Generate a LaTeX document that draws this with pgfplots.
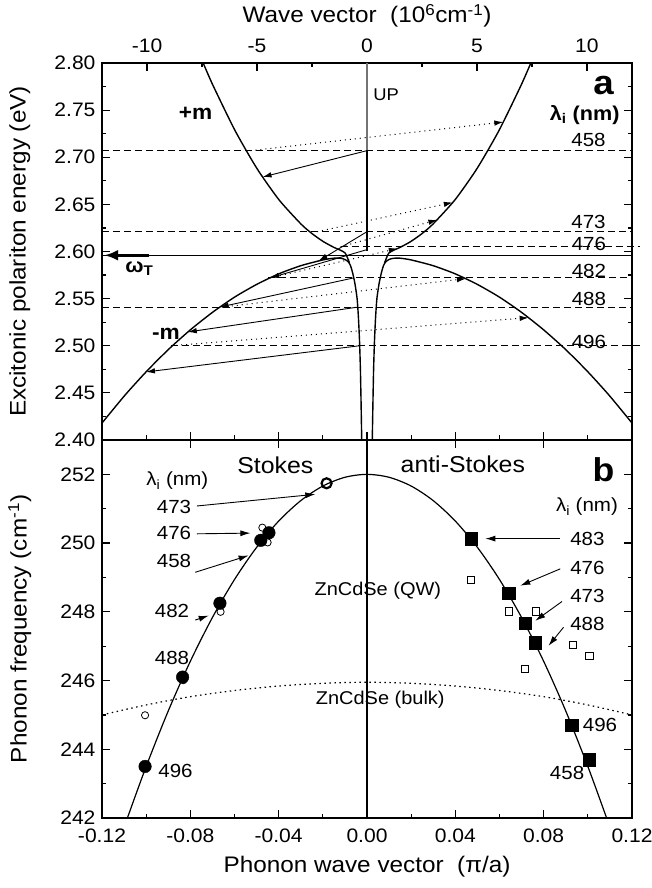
\documentclass[border=0pt]{standalone}
\usepackage{fontspec}
\setmainfont{Liberation Sans}[FakeStretch=1.08]
\usepackage{pgfplots}
\pgfplotsset{compat=1.18}
\usetikzlibrary{arrows.meta}

\newcommand{\fs}[1]{\fontsize{#1}{#1}\selectfont}

\begin{document}
\begin{tikzpicture}
\pgfplotsset{
  every axis/.append style={
    scale only axis, width=530pt, clip=false,
    axis line style={line width=1.5pt},
    every tick/.append style={line width=1.2pt, black},
    major tick length=8pt, minor tick length=4.5pt,
    tick align=inside,
    /pgf/number format/assume math mode=true,
  },
  st/.style={line width=0.9pt, -{Latex[length=9pt,width=5.5pt]}},
  as/.style={line width=1pt, dash pattern=on 1pt off 4pt, -{Latex[length=9pt,width=5.5pt]}},
  dl/.style={line width=0.9pt, dash pattern=on 7pt off 4pt},
  sb/.style={line width=0.9pt, -{Latex[length=10pt,width=6pt]}},
}

% ---------------- panel b ----------------
\begin{axis}[
  at={(0,0)}, anchor=south west, height=378pt,
  xmin=-0.12, xmax=0.12, ymin=242, ymax=253,
  xtick={-0.12,-0.08,-0.04,0,0.04,0.08,0.12},
  minor xtick={-0.10,-0.06,-0.02,0.02,0.06,0.10},
  xtick pos=left,
  xticklabel style={font=\fs{19.5}, /pgf/number format/.cd, fixed, fixed zerofill, precision=2},
  yticklabel style={font=\fs{19.5}},
  xticklabel shift=7pt,
  ytick={242,244,246,248,250,252},
  minor ytick={243,245,247,249,251,253},
  ytick pos=both,
  yticklabel shift=3pt,
  xlabel={Phonon wave vector\ \ (π/a)},
  ylabel={Phonon frequency (cm\textsuperscript{-1})},
  xlabel style={font=\fs{22.5}, at={(axis description cs:0.5,-0.13)}, anchor=center},
  ylabel style={font=\fs{22.5}, at={(axis description cs:-0.155,0.5)}, anchor=center},
]
\addplot[line width=1.2pt] coordinates {(0,242) (0,253)};
% QW dispersion
\addplot[line width=1.2pt, smooth] coordinates {
 (-0.1085,242) (-0.10,243.5) (-0.09,245.115) (-0.08,246.56) (-0.07,247.835)
 (-0.06,248.94) (-0.05,249.875) (-0.04,250.64) (-0.03,251.235) (-0.02,251.66)
 (-0.01,251.915) (0,252) (0.01,251.915) (0.02,251.66) (0.03,251.235)
 (0.04,250.64) (0.05,249.875) (0.06,248.94) (0.07,247.835) (0.08,246.56)
 (0.09,245.115) (0.10,243.5) (0.1085,242)};
% bulk dispersion
\addplot[line width=1.2pt, dash pattern=on 1.5pt off 3.5pt, smooth] coordinates {
 (-0.12,245.00) (-0.10,245.29) (-0.08,245.53) (-0.06,245.71) (-0.04,245.84)
 (-0.02,245.92) (0,245.95) (0.02,245.92) (0.04,245.84) (0.06,245.71)
 (0.08,245.53) (0.10,245.29) (0.12,245.00)};
% Stokes QW
\addplot[only marks, mark=*, mark size=6.3pt, black] coordinates {
 (-0.1005,243.50) (-0.0835,246.10) (-0.0666,248.25) (-0.0481,250.08) (-0.0444,250.30)};
\addplot[only marks, mark=o, mark size=5pt, line width=2.2pt, black] coordinates {(-0.0183,251.74)};
\addplot[only marks, mark=o, mark size=3.6pt, line width=0.8pt, black, fill=white] coordinates {
 (-0.0474,250.45) (-0.0450,250.02) (-0.0663,248.00) (-0.0832,246.01) (-0.1005,244.99)};
% anti-Stokes QW
\addplot[only marks, mark=square*, mark size=6.3pt, black] coordinates {
 (0.0472,250.13) (0.0641,248.54) (0.0717,247.67) (0.0762,247.11) (0.0928,244.70) (0.1007,243.70)};
\addplot[only marks, mark=square, mark size=3.6pt, line width=0.8pt, black, fill=white] coordinates {
 (0.0472,248.93) (0.0641,248.01) (0.0765,248.01) (0.0931,247.03) (0.1007,246.72) (0.0714,246.33)};
% arrows
\addplot[sb] coordinates {(-0.0770,251.08) (-0.0234,251.42)};
\addplot[sb] coordinates {(-0.0770,250.27) (-0.0528,250.29)};
\addplot[sb] coordinates {(-0.0778,249.15) (-0.0536,249.64)};
\addplot[sb] coordinates {(-0.0778,247.76) (-0.0717,247.89)};
\addplot[sb] coordinates {(0.0875,250.13) (0.0536,250.13)};
\addplot[sb] coordinates {(0.0875,249.25) (0.0694,248.76)};
\addplot[sb] coordinates {(0.0883,248.30) (0.0762,247.74)};
\addplot[sb] coordinates {(0.0890,247.55) (0.0822,247.01)};
% text
\node[font=\fs{23}] at (-0.0415,252.25) {Stokes};
\node[font=\fs{23}] at (0.0434,252.30) {anti-Stokes};
\node[font=\bfseries\fs{33}] at (0.1071,252.15) {b};
\node[font=\fs{19}] at (-0.0859,251.81) {λ\textsubscript{i} (nm)};
\node[font=\fs{19}] at (0.0996,251.06) {λ\textsubscript{i} (nm)};
\node[font=\fs{19}] at (-0.0874,251.05) {473};
\node[font=\fs{19}] at (-0.0874,250.29) {476};
\node[font=\fs{19}] at (-0.0874,249.47) {458};
\node[font=\fs{19}] at (-0.0883,248.03) {482};
\node[font=\fs{19}] at (-0.0883,246.66) {488};
\node[font=\fs{19}] at (-0.0867,243.38) {496};
\node[font=\fs{19}] at (0.0998,250.11) {483};
\node[font=\fs{19}] at (0.0998,249.27) {476};
\node[font=\fs{19}] at (0.0998,248.45) {473};
\node[font=\fs{19}] at (0.0998,247.65) {488};
\node[font=\fs{19}] at (0.1055,244.70) {496};
\node[font=\fs{19}] at (0.0906,243.30) {458};
\node[font=\fs{18.5}] at (0.0049,248.62) {ZnCdSe (QW)};
\node[font=\fs{18.5}] at (0.0060,245.43) {ZnCdSe (bulk)};
\end{axis}

% top ticks of panel b
\begin{axis}[
  at={(0,0)}, anchor=south west, height=378pt,
  xmin=-0.12, xmax=0.12, ymin=0, ymax=1, hide y axis,
  axis line style={draw=none},
  xtick={-0.12,-0.08,-0.04,0,0.04,0.08,0.12}, xtick pos=right, xticklabels={},
]
\end{axis}

% ---------------- panel a ----------------
\begin{axis}[
  at={(0,378pt)}, anchor=south west, height=377pt,
  xmin=-12.05, xmax=12.05, ymin=2.40, ymax=2.80,
  xtick={-10,-5,0,5,10}, minor xtick={-7.5,-2.5,2.5,7.5},
  xtick pos=right, xticklabel pos=right, xticklabel shift=7pt,
  xticklabel style={font=\fs{19.5}},
  ytick={2.40,2.45,2.50,2.55,2.60,2.65,2.70,2.75,2.80},
  minor ytick={2.425,2.475,2.525,2.575,2.625,2.675,2.725,2.775},
  ytick pos=both,
  yticklabel shift=3pt,
  yticklabel style={font=\fs{19.5}, /pgf/number format/.cd, fixed, fixed zerofill, precision=2},
  xlabel={Wave vector\ \ (10\textsuperscript{6}cm\textsuperscript{-1})},
  ylabel={Excitonic polariton energy (eV)},
  xlabel style={font=\fs{22.5}, at={(axis description cs:0.5,1.125)}, anchor=center},
  ylabel style={font=\fs{22.5}, at={(axis description cs:-0.155,0.5)}, anchor=center},
]
% laser lines
\addplot[dl] coordinates {(-12.05,2.707) (12.05,2.707)};
\addplot[dl] coordinates {(-12.05,2.621) (12.05,2.621)};
\addplot[dl] coordinates {(-1.2,2.605) (12.4,2.605)};
\addplot[dl] coordinates {(-4.5,2.572) (12.05,2.572)};
\addplot[dl] coordinates {(-12.05,2.541) (12.05,2.541)};
\addplot[dl] coordinates {(-8.9,2.500) (12.4,2.500)};
% omega_T
\addplot[line width=1pt] coordinates {(-12.05,2.596) (12.05,2.596)};
\addplot[line width=3.5pt, -{Latex[length=14pt,width=11pt]}] coordinates {(-9.9,2.596) (-11.95,2.596)};
% +m branches
\addplot[line width=1.4pt, smooth, tension=0.4] coordinates {
 (-7.45,2.80) (-7,2.7761) (-6,2.7283) (-5,2.6879) (-4,2.6548) (-3,2.6291)
 (-2.5,2.6190) (-2,2.6107) (-1.5,2.6043) (-1.2,2.6013) (-1.0,2.5985) (-0.9,2.594) (-0.8,2.588)};
\addplot[line width=1.4pt, smooth, tension=0.4] coordinates {
 (7.45,2.80) (7,2.7761) (6,2.7283) (5,2.6879) (4,2.6548) (3,2.6291)
 (2.5,2.6190) (2,2.6107) (1.5,2.6043) (1.2,2.6013) (1.0,2.5985) (0.9,2.594) (0.8,2.588)};
% -m / lower polariton branches
\addplot[line width=1.4pt, smooth, tension=0.4] coordinates {
 (-12.05,2.418) (-11,2.4477) (-10,2.4734) (-9,2.4967) (-8,2.5175) (-7,2.5359)
 (-6,2.5519) (-5,2.5653) (-4,2.5764) (-3,2.5850) (-2,2.5911) (-1.5,2.5929)
 (-1.2,2.5928) (-1.0,2.5915) (-0.85,2.589) (-0.75,2.585) (-0.65,2.577)
 (-0.55,2.566) (-0.45,2.55) (-0.39,2.53) (-0.34,2.505) (-0.30,2.475)
 (-0.27,2.44) (-0.24,2.40)};
\addplot[line width=1.4pt, smooth, tension=0.4] coordinates {
 (12.05,2.418) (11,2.4477) (10,2.4734) (9,2.4967) (8,2.5175) (7,2.5359)
 (6,2.5519) (5,2.5653) (4,2.5764) (3,2.5850) (2,2.5911) (1.5,2.5929)
 (1.2,2.5928) (1.0,2.5915) (0.85,2.589) (0.75,2.585) (0.65,2.577)
 (0.55,2.566) (0.45,2.55) (0.39,2.53) (0.34,2.505) (0.30,2.475)
 (0.27,2.44) (0.24,2.40)};
% UP
\addplot[black!55, line width=2.8pt] coordinates {(0,2.708) (0,2.80)};
\addplot[black, line width=1.1pt] coordinates {(0,2.601) (0,2.708)};
% Stokes transitions
\addplot[st] coordinates {(0,2.707) (-4.75,2.679)};
\addplot[st] coordinates {(0,2.621) (-2.2,2.590)};
\addplot[st] coordinates {(0,2.602) (-4.4,2.572)};
\addplot[st] coordinates {(-0.60,2.572) (-6.7,2.541)};
\addplot[st] coordinates {(-0.42,2.541) (-8.15,2.5146)};
\addplot[st] coordinates {(-0.335,2.500) (-10.05,2.4722)};
% anti-Stokes transitions
\addplot[as] coordinates {(-5.3,2.707) (6.2,2.7373)};
\addplot[as] coordinates {(-2.27,2.621) (3.9,2.652)};
\addplot[as] coordinates {(-1.2,2.605) (3.2,2.6336)};
\addplot[as] coordinates {(-4.4,2.572) (1.4,2.6032)};
\addplot[as] coordinates {(-6.6,2.541) (4.5,2.5712)};
\addplot[as] coordinates {(-8.9,2.500) (7.35,2.5298)};
% text
\node[font=\bfseries\fs{21}] at (-7.8,2.747) {+m};
\node[font=\bfseries\fs{21}] at (-9.14,2.5125) {-m};
\node[font=\bfseries\fs{20}] at (-10.35,2.582) {ω\textsubscript{T}};
\node[font=\fs{17}] at (0.87,2.7666) {UP};
\node[font=\bfseries\fs{34}] at (10.76,2.7756) {a};
\node[font=\bfseries\fs{20}] at (9.9,2.7448) {λ\textsubscript{i} (nm)};
\node[font=\fs{19}] at (10.07,2.7183) {458};
\node[font=\fs{19}] at (10.07,2.6313) {473};
\node[font=\fs{19}] at (10.09,2.6083) {476};
\node[font=\fs{19}] at (10.09,2.5795) {482};
\node[font=\fs{19}] at (10.09,2.5498) {488};
\node[font=\fs{19}] at (10.09,2.5040) {496};
\end{axis}

% bottom ticks of panel a (phonon scale)
\begin{axis}[
  at={(0,378pt)}, anchor=south west, height=377pt,
  xmin=-0.12, xmax=0.12, ymin=0, ymax=1, hide y axis,
  axis line style={draw=none},
  xtick={-0.12,-0.08,-0.04,0,0.04,0.08,0.12},
  minor xtick={-0.10,-0.06,-0.02,0.02,0.06,0.10},
  xtick pos=left, xticklabels={},
]
\end{axis}

\pgfresetboundingbox
\path (-102pt,-70pt) rectangle (550pt,818pt);
\end{tikzpicture}
\end{document}
